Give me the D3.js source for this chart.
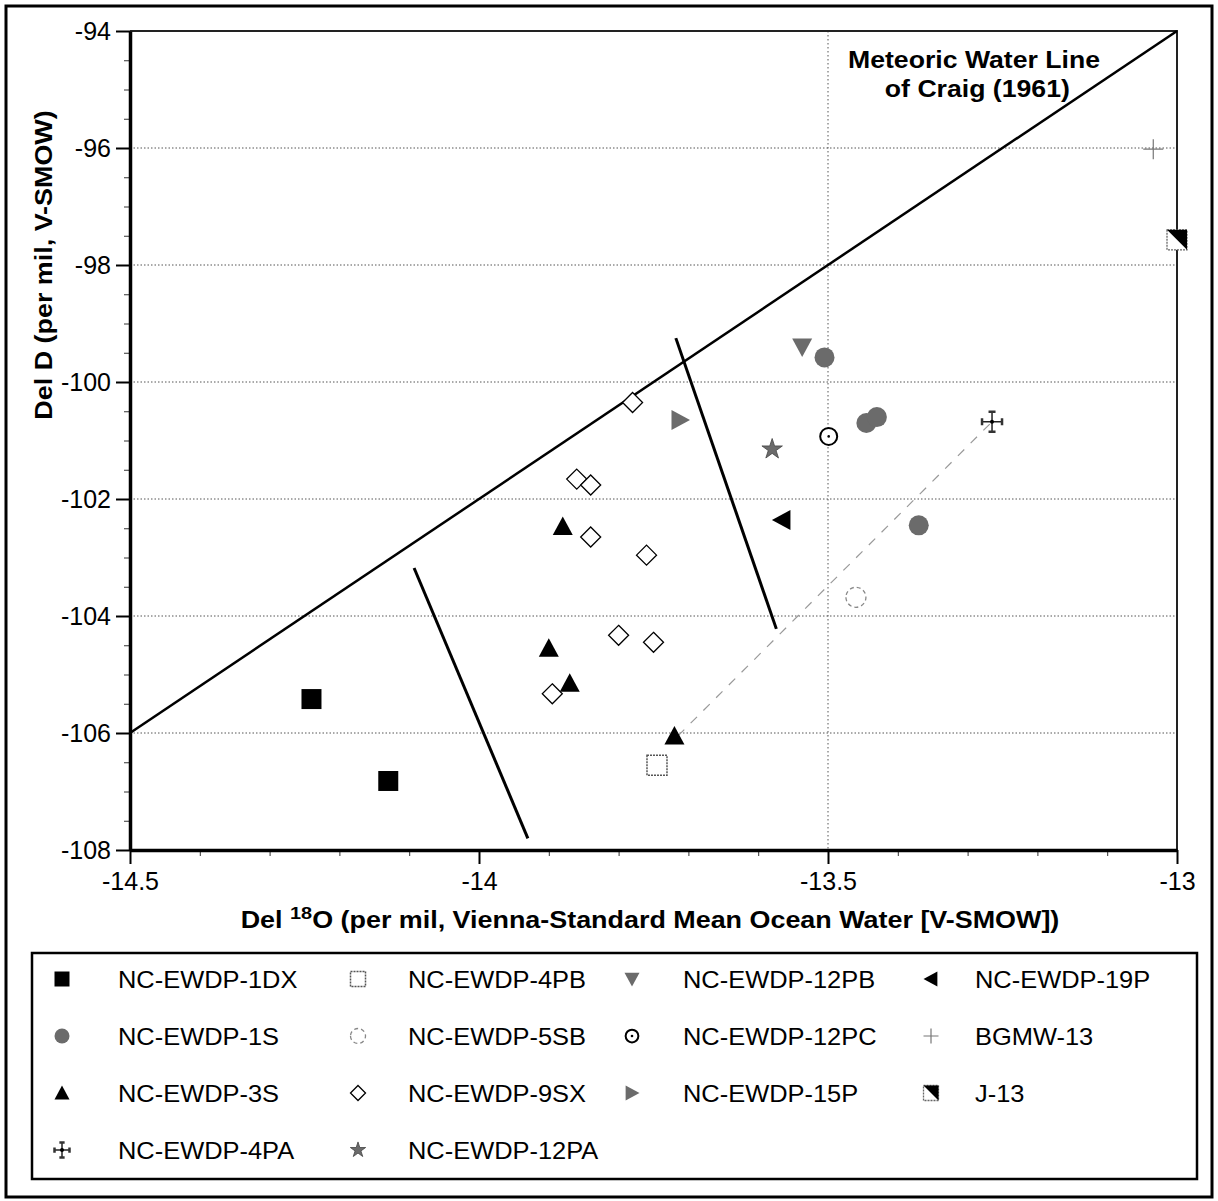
<!DOCTYPE html>
<html>
<head>
<meta charset="utf-8">
<script src="https://cdn.jsdelivr.net/npm/d3@7"></script>
<style>
  body { margin: 0; background: #fff; }
  svg { font-family: "Liberation Sans", Arial, sans-serif; }
</style>
</head>
<body>
<svg id="chart" width="1218" height="1201"></svg>
<script>
// === DONNÉES ===
const xTicks = [-14.5, -14, -13.5, -13];
const yTicks = [-94, -96, -98, -100, -102, -104, -106, -108];

// [del18O, delD] par puits
const ewdp1DX  = [[-14.24, -105.42], [-14.13, -106.82]];
const ewdp1S   = [[-13.505, -99.58], [-13.445, -100.7], [-13.43, -100.6], [-13.37, -102.45]];
const ewdp3S   = [[-13.88, -102.47], [-13.90, -104.55], [-13.87, -105.15], [-13.72, -106.05]];
const ewdp4PA  = [[-13.265, -100.68]];
const ewdp4PB  = [[-13.745, -106.55]];
const ewdp5SB  = [[-13.46, -103.68]];
const ewdp9SX  = [[-13.78, -100.35], [-13.86, -101.66], [-13.84, -101.76], [-13.84, -102.65],
                  [-13.76, -102.96], [-13.80, -104.33], [-13.75, -104.45], [-13.895, -105.33]];
const ewdp12PA = [[-13.58, -101.15]];
const ewdp12PB = [[-13.537, -99.4]];
const ewdp12PC = [[-13.499, -100.93]];
const ewdp15P  = [[-13.712, -100.65]];
const ewdp19P  = [[-13.566, -102.36]];
const bgmw13   = [[-13.034, -96.02]];
const j13      = [[-13.0, -97.57]];

// droite météorique de Craig (1961) : dD = 8 d18O + 10
const meteoricX = [-14.5, -13];
// traits séparateurs et droite de mélange
const divider1 = [[-14.093, -103.18], [-13.93, -107.8]];
const divider2 = [[-13.718, -99.25], [-13.574, -104.22]];
const mixingLine = [[-13.715, -106.05], [-13.265, -100.68]];

// === CONFIGURATION ===
const margin = { top: 31, left: 130 };
const width = 1047;
const height = 819;
const gray = "#6b6b6b";

// === FORMES DES SYMBOLES (r = demi-taille) ===
const shapes = {
  square: r => `M${-r},${-r}H${r}V${r}H${-r}Z`,
  triUp: r => `M0,${-r}L${r},${r * 0.85}L${-r},${r * 0.85}Z`,
  triDown: r => `M0,${r}L${r},${-r * 0.85}L${-r},${-r * 0.85}Z`,
  triLeft: r => `M${-r},0L${r * 0.85},${-r}L${r * 0.85},${r}Z`,
  triRight: r => `M${r},0L${-r * 0.85},${-r}L${-r * 0.85},${r}Z`,
  diamond: r => `M0,${-r}L${r},0L0,${r}L${-r},0Z`,
  circle: r => `M${-r},0A${r},${r} 0 1,0 ${r},0A${r},${r} 0 1,0 ${-r},0Z`,
  plus: r => `M${-r},0H${r}M0,${-r}V${r}`,
  star: r => d3.symbol(d3.symbolStar, r * r * 1.3)()
};

const series = [
  { name: "NC-EWDP-1DX", data: ewdp1DX, draw: (g, r) => g.append("path").attr("d", shapes.square(r)).attr("fill", "#000") },
  { name: "NC-EWDP-1S", data: ewdp1S, draw: (g, r) => g.append("path").attr("d", shapes.circle(r)).attr("fill", gray) },
  { name: "NC-EWDP-3S", data: ewdp3S, draw: (g, r) => g.append("path").attr("d", shapes.triUp(r)).attr("fill", "#000") },
  { name: "NC-EWDP-4PA", data: ewdp4PA, draw: drawCrossDots },
  { name: "NC-EWDP-4PB", data: ewdp4PB, draw: (g, r) => g.append("path").attr("d", shapes.square(r)).attr("fill", "#fff").attr("stroke", "#555").attr("stroke-width", 1.5).attr("stroke-dasharray", "2,1") },
  { name: "NC-EWDP-5SB", data: ewdp5SB, draw: (g, r) => g.append("path").attr("d", shapes.circle(r)).attr("fill", "none").attr("stroke", "#888").attr("stroke-width", 1.3).attr("stroke-dasharray", "4,3") },
  { name: "NC-EWDP-9SX", data: ewdp9SX, draw: (g, r) => g.append("path").attr("d", shapes.diamond(r)).attr("fill", "#fff").attr("stroke", "#000").attr("stroke-width", 1.3) },
  { name: "NC-EWDP-12PA", data: ewdp12PA, draw: (g, r) => g.append("path").attr("d", shapes.star(r)).attr("fill", gray).attr("stroke", "#444").attr("stroke-width", 0.8) },
  { name: "NC-EWDP-12PB", data: ewdp12PB, draw: (g, r) => g.append("path").attr("d", shapes.triDown(r)).attr("fill", gray) },
  { name: "NC-EWDP-12PC", data: ewdp12PC, draw: drawCircleDot },
  { name: "NC-EWDP-15P", data: ewdp15P, draw: (g, r) => g.append("path").attr("d", shapes.triRight(r)).attr("fill", gray) },
  { name: "NC-EWDP-19P", data: ewdp19P, draw: (g, r) => g.append("path").attr("d", shapes.triLeft(r)).attr("fill", "#000") },
  { name: "BGMW-13", data: bgmw13, draw: (g, r) => g.append("path").attr("d", shapes.plus(r)).attr("fill", "none").attr("stroke", "#777").attr("stroke-width", 1.2) },
  { name: "J-13", data: j13, draw: drawHalfSquare }
];

function drawCircleDot(g, r) {
  g.append("path").attr("d", shapes.circle(r * 0.85)).attr("fill", "#fff").attr("stroke", "#000").attr("stroke-width", 2);
  g.append("circle").attr("r", 1.3).attr("fill", "#000");
}

function drawCrossDots(g, r) {
  g.append("path").attr("d", shapes.plus(r)).attr("stroke", "#222").attr("stroke-width", 1.5);
  const b = r * 0.35;
  g.append("path")
    .attr("d", `M${-r},${-b}V${b}M${r},${-b}V${b}M${-b},${-r}H${b}M${-b},${r}H${b}`)
    .attr("stroke", "#333").attr("stroke-width", 2.5);
  g.append("circle").attr("r", 2).attr("fill", "#000");
}

function drawHalfSquare(g, r) {
  g.append("path").attr("d", shapes.square(r)).attr("fill", "#fff").attr("stroke", "#666").attr("stroke-width", 1.3).attr("stroke-dasharray", "2,1");
  g.append("path").attr("d", `M${-r},${-r}H${r}V${r}Z`).attr("fill", "#000");
}

// === GRAPHIQUE ===
const svg = d3.select("#chart");

// cadre extérieur
svg.append("rect")
  .attr("x", 6).attr("y", 6).attr("width", 1206).attr("height", 1191)
  .attr("fill", "none").attr("stroke", "#000").attr("stroke-width", 3);

const g = svg.append("g").attr("transform", `translate(${margin.left},${margin.top})`);

const x = d3.scaleLinear().domain([-14.5, -13]).range([0, width]);
const y = d3.scaleLinear().domain([-108, -94]).range([height, 0]);

// grille pointillée
g.append("g")
  .selectAll("line")
  .data(yTicks.filter(d => d > -108 && d < -94))
  .enter().append("line")
  .attr("x1", 0).attr("x2", width)
  .attr("y1", d => y(d)).attr("y2", d => y(d))
  .attr("stroke", "#555").attr("stroke-width", 1).attr("stroke-dasharray", "1.5,2");

g.append("line")
  .attr("x1", x(-13.5)).attr("x2", x(-13.5))
  .attr("y1", 0).attr("y2", height)
  .attr("stroke", "#555").attr("stroke-width", 1).attr("stroke-dasharray", "1.5,2.5");

// bords haut et droit
g.append("path")
  .attr("d", `M0,0H${width}V${height}`)
  .attr("fill", "none").attr("stroke", "#222").attr("stroke-width", 2);

// axes : petits traits
const xMinor = d3.range(-14.5, -12.99, 0.1).filter(v => !xTicks.some(t => Math.abs(t - v) < 1e-6));
const yMinor = d3.range(-108, -93.99, 0.5).filter(v => !yTicks.some(t => Math.abs(t - v) < 1e-6));

g.append("g")
  .attr("transform", `translate(0,${height})`)
  .call(d3.axisBottom(x).tickValues(xMinor).tickSize(6).tickFormat("").tickSizeOuter(0))
  .call(a => a.select(".domain").remove())
  .selectAll("line").attr("stroke", "#333");

g.append("g")
  .call(d3.axisLeft(y).tickValues(yMinor).tickSize(6).tickFormat("").tickSizeOuter(0))
  .call(a => a.select(".domain").remove())
  .selectAll("line").attr("stroke", "#333");

// axes principaux
const xAxis = g.append("g")
  .attr("transform", `translate(0,${height})`)
  .call(d3.axisBottom(x).tickValues(xTicks).tickSize(14).tickPadding(8).tickSizeOuter(0).tickFormat(d => String(d)));
xAxis.select(".domain").attr("stroke-width", 3.5);
xAxis.selectAll(".tick line").attr("stroke-width", 2);
xAxis.selectAll("text").attr("fill", "#000").style("font-size", "25px");

const yAxis = g.append("g")
  .call(d3.axisLeft(y).tickValues(yTicks).tickSize(14).tickPadding(5).tickSizeOuter(0).tickFormat(d => String(d)));
yAxis.select(".domain").attr("stroke-width", 3.5);
yAxis.selectAll(".tick line").attr("stroke-width", 2);
yAxis.selectAll("text").attr("fill", "#000").style("font-size", "25px");

// droite météorique
g.append("line")
  .attr("x1", x(meteoricX[0])).attr("y1", y(8 * meteoricX[0] + 10))
  .attr("x2", x(meteoricX[1])).attr("y2", y(8 * meteoricX[1] + 10))
  .attr("stroke", "#000").attr("stroke-width", 2.5);

// traits séparateurs
[divider1, divider2].forEach(seg => {
  g.append("line")
    .attr("x1", x(seg[0][0])).attr("y1", y(seg[0][1]))
    .attr("x2", x(seg[1][0])).attr("y2", y(seg[1][1]))
    .attr("stroke", "#000").attr("stroke-width", 3);
});

// droite de mélange (tirets gris)
g.append("line")
  .attr("x1", x(mixingLine[0][0])).attr("y1", y(mixingLine[0][1]))
  .attr("x2", x(mixingLine[1][0])).attr("y2", y(mixingLine[1][1]))
  .attr("stroke", "#999").attr("stroke-width", 1.2).attr("stroke-dasharray", "9,9");

// annotation (police scannée un peu plus large : étirement horizontal)
const note = svg.append("text")
  .attr("transform", "translate(974,0) scale(1.11,1)")
  .attr("text-anchor", "middle")
  .style("font-size", "24px").style("font-weight", "bold");
note.append("tspan").attr("x", 0).attr("y", 68).text("Meteoric Water Line");
note.append("tspan").attr("x", 3).attr("y", 97).text("of Craig (1961)");

// points
series.forEach(s => {
  g.selectAll(null)
    .data(s.data)
    .enter().append("g")
    .attr("transform", d => `translate(${x(d[0])},${y(d[1])})`)
    .each(function() { s.draw(d3.select(this), 10); });
});

// titres des axes
const xTitle = svg.append("text")
  .attr("transform", "translate(650,928) scale(1.17,1)")
  .attr("text-anchor", "middle")
  .style("font-size", "23px").style("font-weight", "bold");
xTitle.append("tspan").text("Del ");
xTitle.append("tspan").attr("dy", -9).style("font-size", "17px").text("18");
xTitle.append("tspan").attr("dy", 9).text("O (per mil, Vienna-Standard Mean Ocean Water [V-SMOW])");

svg.append("text")
  .attr("transform", "translate(52,265) rotate(-90) scale(1.17,1)")
  .attr("text-anchor", "middle")
  .style("font-size", "23px").style("font-weight", "bold")
  .text("Del D (per mil, V-SMOW)");

// === LÉGENDE ===
svg.append("rect")
  .attr("x", 32).attr("y", 953).attr("width", 1165).attr("height", 226)
  .attr("fill", "none").attr("stroke", "#000").attr("stroke-width", 2.5);

const legendCols = [
  { mx: 62, tx: 118 },
  { mx: 358, tx: 408 },
  { mx: 632, tx: 683 },
  { mx: 931, tx: 975 }
];
const legendRowY = [988, 1045, 1102, 1159];
const legendLayout = [
  [0, 0], [0, 1], [0, 2], [0, 3],
  [1, 0], [1, 1], [1, 2], [1, 3],
  [2, 0], [2, 1], [2, 2],
  [3, 0], [3, 1], [3, 2]
];

series.forEach((s, i) => {
  const [c, r] = legendLayout[i];
  const col = legendCols[c];
  const base = legendRowY[r];
  const mk = svg.append("g").attr("transform", `translate(${col.mx},${base - 9})`);
  s.draw(mk, 7.5);
  svg.append("text")
    .attr("transform", `translate(${col.tx},${base}) scale(1.06,1)`)
    .style("font-size", "24px")
    .text(s.name);
});
</script>
</body>
</html>
